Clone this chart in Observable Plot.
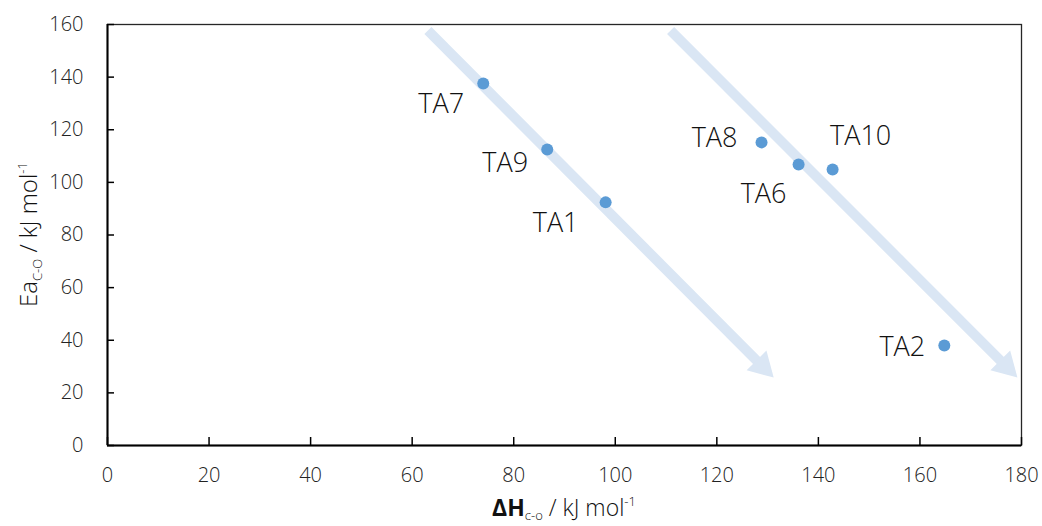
<!DOCTYPE html>
<html>
<head>
<meta charset="utf-8">
<script src="https://cdn.jsdelivr.net/npm/d3@7"></script>
<script src="https://cdn.jsdelivr.net/npm/@observablehq/plot@0.6"></script>
<style>
  html, body { margin: 0; padding: 0; background: #fff; }
  #chart { width: 1042px; height: 526px; }
</style>
</head>
<body>
<div id="chart"></div>
<script>
// ---- data ----
const names = ["TA7", "TA9", "TA1", "TA8", "TA6", "TA10", "TA2"];
const dH = [74.0, 86.6, 98.1, 128.8, 136.1, 142.8, 164.8];
const Ea = [137.6, 112.5, 92.4, 115.2, 106.8, 104.9, 38.0];
const xTicks = [0, 20, 40, 60, 80, 100, 120, 140, 160, 180];
const yTicks = [0, 20, 40, 60, 80, 100, 120, 140, 160];
// trend arrows (start -> tip), in data units
const arrowX1 = [63.1, 110.9];
const arrowY1 = [157.7, 157.7];
const arrowX2 = [131.2, 179.2];
const arrowY2 = [25.8, 25.8];

// ---- layout ----
const W = 1042, H = 526;
const mL = 107, mR = 21, mT = 24, mB = 81;
const pw = W - mL - mR, ph = H - mT - mB;
const kx = pw / 180, ky = ph / 160; // px per data unit
const labelOffset = {
  TA7: [-42, 21], TA9: [-42, 14], TA1: [-50, 21], TA8: [-47, -4],
  TA6: [-35, 30], TA10: [28, -33], TA2: [-42, 2]
};

const points = names.map((n, i) => ({name: n, x: dH[i], y: Ea[i]}));
const arrows = arrowX1.map((_, i) => ({x1: arrowX1[i], y1: arrowY1[i], x2: arrowX2[i], y2: arrowY2[i]}));
const arrowColor = "#dae6f4";
const shaftBack = 21 / Math.SQRT2; // px back from tip along 45deg
const headBack = 16.2 / Math.SQRT2;
const textColor = "#111";

const labelMarks = names.map(n => Plot.text(points.filter(d => d.name === n), {
  x: "x", y: "y", text: "name",
  dx: labelOffset[n][0], dy: labelOffset[n][1],
  fontSize: 27, fontWeight: 300, fill: textColor
}));

const plot = Plot.plot({
  width: W, height: H,
  marginLeft: mL, marginRight: mR, marginTop: mT, marginBottom: mB,
  style: {fontFamily: "'Open Sans', sans-serif", fontSize: "20px", fontWeight: 300, color: "#222", background: "#fff"},
  x: {domain: [0, 180], ticks: xTicks},
  y: {domain: [0, 160], ticks: yTicks},
  marks: [
    // arrows
    Plot.link(arrows, {
      x1: "x1", y1: "y1",
      x2: d => d.x2 - shaftBack / kx, y2: d => d.y2 + shaftBack / ky,
      stroke: arrowColor, strokeWidth: 10, strokeLinecap: "butt"
    }),
    Plot.dot(arrows, {
      x: "x2", y: "y2", symbol: "triangle", r: 10.4, rotate: 135,
      dx: -headBack, dy: -headBack, fill: arrowColor, stroke: "none"
    }),
    // frame + axes
    Plot.frame({stroke: "#262626", strokeWidth: 1.3}),
    Plot.ruleX([0], {stroke: "#000", strokeWidth: 2}),
    Plot.ruleY([0], {stroke: "#000", strokeWidth: 2}),
    Plot.tickY(yTicks, {y: d => d, stroke: "#000", strokeWidth: 1.5, insetRight: pw - 7}),
    Plot.tickX(xTicks, {x: d => d, stroke: "#000", strokeWidth: 1.5, insetTop: ph - 8}),
    Plot.axisY(yTicks, {tickSize: 0, tickPadding: 24, label: null, fontSize: 20, fill: "#222"}),
    Plot.axisX(xTicks, {tickSize: 0, tickPadding: 22, label: null, fontSize: 20, fill: "#222"}),
    // points
    Plot.dot(points, {x: "x", y: "y", r: 6, fill: "#5b9bd5", stroke: "none"}),
    ...labelMarks
  ]
});

document.getElementById("chart").appendChild(plot);

// axis titles with subscripts / superscripts
const svg = d3.select(plot);
const xt = svg.append("text")
  .attr("x", mL + pw / 2).attr("y", 516)
  .attr("text-anchor", "middle")
  .attr("font-size", 23).attr("font-weight", 300).attr("fill", textColor);
xt.append("tspan").attr("font-weight", "bold").text("ΔH");
xt.append("tspan").attr("font-size", 13).attr("dy", 4).text("c-o");
xt.append("tspan").attr("dy", -4).text(" / kJ mol");
xt.append("tspan").attr("font-size", 13).attr("dy", -10).text("-1");

const yt = svg.append("text")
  .attr("transform", `translate(37,${mT + ph / 2}) rotate(-90)`)
  .attr("text-anchor", "middle")
  .attr("font-size", 24).attr("font-weight", 300).attr("fill", textColor);
yt.append("tspan").text("Ea");
yt.append("tspan").attr("font-size", 13).attr("dy", 5).text("C-O");
yt.append("tspan").attr("dy", -5).text(" / kJ mol");
yt.append("tspan").attr("font-size", 13).attr("dy", -10).text("-1");
</script>
</body>
</html>
